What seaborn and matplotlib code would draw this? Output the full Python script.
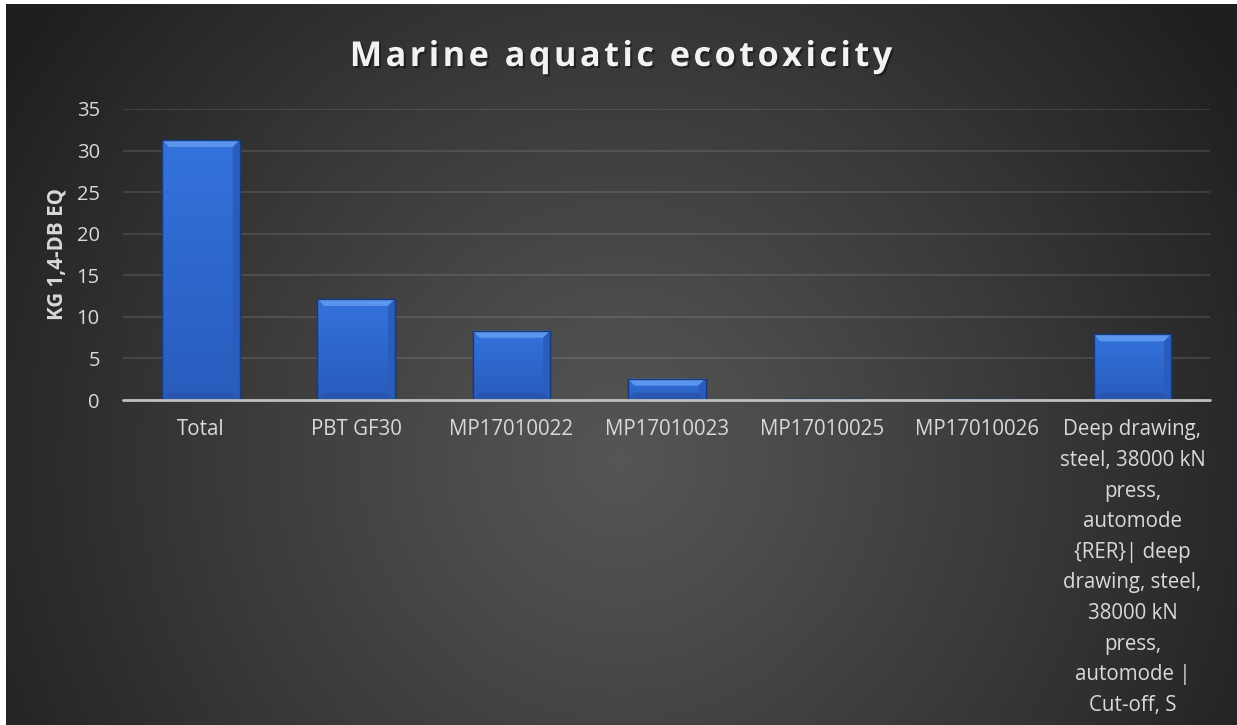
import numpy as np
import pandas as pd
import matplotlib
matplotlib.use("Agg")
import matplotlib.pyplot as plt
from matplotlib.patches import Polygon
from matplotlib.transforms import IdentityTransform
import matplotlib.patheffects as pe
import seaborn as sns

# ---- data -------------------------------------------------------------
categories = [
    "Total",
    "PBT GF30",
    "MP17010022",
    "MP17010023",
    "MP17010025",
    "MP17010026",
    "Deep drawing, steel, 38000 kN press, automode {RER}| deep drawing, "
    "steel, 38000 kN press, automode | Cut-off, S",
]
values = [31.27, 12.15, 8.33, 2.56, 0.12, 0.12, 7.9]
tick_labels = [
    "Total",
    "PBT GF30",
    "MP17010022",
    "MP17010023",
    "MP17010025",
    "MP17010026",
    "Deep drawing,\nsteel, 38000 kN\npress,\nautomode\n{RER}| deep\ndrawing, steel,\n38000 kN\npress,\nautomode |\nCut-off, S",
]
y_ticks = [0, 5, 10, 15, 20, 25, 30, 35]
title = "Marine aquatic ecotoxicity"
y_label = "KG 1,4-DB EQ"

# ---- style ------------------------------------------------------------
sns.set_theme(style="dark")
plt.rcParams["font.family"] = ["Open Sans", "DejaVu Sans"]

W, H = 1237, 725
fig = plt.figure(figsize=(W / 100, H / 100), dpi=100)
fig.patch.set_facecolor("white")

# radial dark-grey backdrop
bg_left, bg_top = 6, 4
bw, bh = W - bg_left, H - bg_top
bg_ax = fig.add_axes([bg_left / W, 0, bw / W, bh / H], zorder=-10)
yy, xx = np.mgrid[0:bh, 0:bw]
cx, cy = 620 - bg_left, 460 - bg_top
r = np.sqrt((xx - cx) ** 2 + (yy - cy) ** 2)
r = np.clip(r / 720.0, 0, 1)
lvl = 0.335 - (0.335 - 0.125) * r ** 1.1
bg = np.dstack([lvl, lvl, lvl])
bg_ax.imshow(bg, aspect="auto", interpolation="bilinear")
bg_ax.set_axis_off()

# main plotting area
left, right = 123.4, 1210.0
zero_y, top_y = 400.0, 109.0
ax = fig.add_axes([left / W, (H - zero_y) / H, (right - left) / W, (zero_y - top_y) / H])
ax.patch.set_alpha(0)

df = pd.DataFrame({"category": categories, "value": values})
sns.barplot(data=df, x="category", y="value", order=categories, ax=ax,
            color="#2E68D0", saturation=1, width=0.5,
            edgecolor="#173a7c", linewidth=1.0, zorder=3)

ax.set_ylim(0, 35)
ax.set_xlim(-0.5, len(categories) - 0.5)
ax.set_yticks(y_ticks)
ax.set_yticklabels([str(t) for t in y_ticks])
ax.set_xticks(range(len(categories)))
ax.set_xticklabels(tick_labels, linespacing=1.6, va="top")
ax.set_xlabel("")
ax.set_ylabel("")

for s in ax.spines.values():
    s.set_visible(False)
ax.yaxis.grid(True, color="#d9d9d9", alpha=0.16, linewidth=1.2, zorder=0)
ax.xaxis.grid(False)
ax.set_axisbelow(True)
ax.tick_params(axis="y", length=0, pad=17, labelsize=14.5, labelcolor="#d9d9d9")
ax.tick_params(axis="x", length=0, pad=14, labelsize=14.8, labelcolor="#d9d9d9")

# bevel shading on each bar (vertical gradient plus lighter top edge)
fig.canvas.draw()
grad = np.linspace(0, 1, 64).reshape(-1, 1)
top_c = np.array([0.20, 0.45, 0.86])
bot_c = np.array([0.16, 0.36, 0.74])
for p in list(ax.patches):
    x0, y0 = p.get_x(), p.get_y()
    w, h = p.get_width(), p.get_height()
    img = top_c * (1 - grad[..., None]) + bot_c * grad[..., None]
    im = ax.imshow(img, extent=[x0, x0 + w, y0, y0 + h], aspect="auto",
                   origin="upper", zorder=3.5, interpolation="bilinear")
    im.set_clip_path(p)
    (px0, py0), (px1, py1) = ax.transData.transform([(x0, y0), (x0 + w, y0 + h)])
    bev = min(7.0, (py1 - py0) / 2.0)
    top_face = Polygon([(px0, py1), (px1, py1), (px1 - bev, py1 - bev), (px0 + bev, py1 - bev)],
                       closed=True, transform=IdentityTransform(),
                       facecolor="#5b95ee", edgecolor="none", zorder=4)
    bot_face = Polygon([(px0, py0), (px1, py0), (px1 - bev, py0 + bev), (px0 + bev, py0 + bev)],
                       closed=True, transform=IdentityTransform(),
                       facecolor="#2855ad", edgecolor="none", zorder=4)
    right_face = Polygon([(px1, py0), (px1, py1), (px1 - bev, py1 - bev), (px1 - bev, py0 + bev)],
                         closed=True, transform=IdentityTransform(),
                         facecolor="#2a5cbb", edgecolor="none", zorder=4)
    ax.add_patch(top_face)
    ax.add_patch(bot_face)
    ax.add_patch(right_face)
    outline = Polygon([(px0, py0), (px1, py0), (px1, py1), (px0, py1)], closed=True,
                      transform=IdentityTransform(), facecolor="none",
                      edgecolor="#173a7c", linewidth=1.0, zorder=4.5)
    ax.add_patch(outline)

ax.set_xlim(-0.5, len(categories) - 0.5)
ax.set_ylim(0, 35)

# category axis line
ax.axhline(0, color="#bfbfbf", linewidth=2.0, zorder=6, clip_on=False)

# title, drawn with widened letter spacing
spaced_title = "\u200a".join(title)
fig.text(620 / W, 1 - 57 / H, spaced_title, ha="center", va="center",
         fontsize=24.7, fontweight="bold", color="#f2f2f2",
         path_effects=[pe.withSimplePatchShadow(offset=(1.5, -1.5), shadow_rgbFace="black", alpha=0.4)])
fig.text(57 / W, 1 - 254 / H, y_label, ha="center", va="center", rotation=90,
         fontsize=14.8, fontweight="bold", color="#d9d9d9")

fig.savefig("out.png", dpi=100, facecolor=fig.get_facecolor())
